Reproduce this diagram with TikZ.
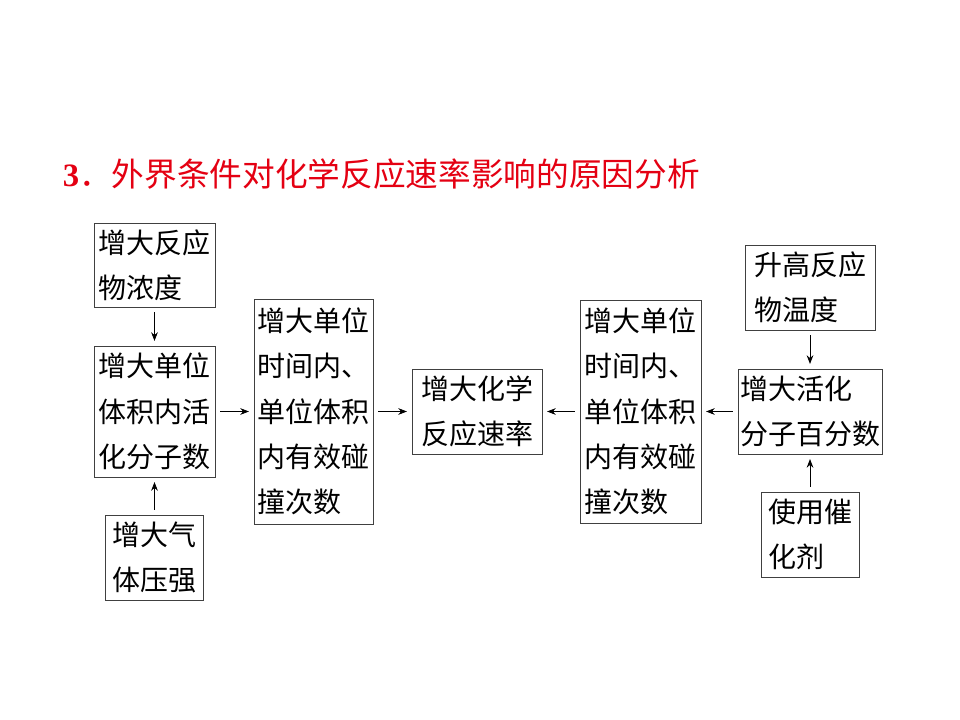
\documentclass[tikz,border=0pt]{standalone}
\usepackage{fontspec}
\setmainfont{Liberation Serif}
\newfontfamily\cjk{Noto Sans CJK SC}
\usepackage{xcolor}
\usepackage{tikz}
\usetikzlibrary{arrows.meta}
\definecolor{titlered}{RGB}{228,0,18}

\begin{document}
\begin{tikzpicture}[x=0.75pt,y=-0.75pt,line width=0.6pt,
    box/.style={draw=black!75, align=left, inner sep=0pt, font=\cjk\fontsize{21}{34}\selectfont},
    link/.style={-{Stealth[length=6.5pt,width=5pt]}, shorten <=3.5pt, shorten >=3.5pt}]
    \useasboundingbox (0,0) rectangle (960,720);
    \node[anchor=west, text=titlered, font=\fontsize{24.5}{28}\selectfont] (title) at (58,174)
      {\textbf{3}{\cjk ．外界条件对化学反应速率影响的原因分析}};
    % left side
    \node[box, minimum width=90.75pt, minimum height=63pt] (conc) at (154.5,265) {增大反应\\物浓度};
    \node[box, minimum width=90.75pt, minimum height=98.25pt] (actnum) at (154.5,411.5) {增大单位\\体积内活\\化分子数};
    \node[box, minimum width=73.5pt, minimum height=63.75pt] (press) at (154.5,557.5) {增大气\\体压强};
    \node[box, minimum width=89.25pt, minimum height=168.75pt] (collL) at (313.5,411.5) {增大单位\\时间内、\\单位体积\\内有效碰\\撞次数};
    % middle
    \node[box, minimum width=97.5pt, minimum height=63.75pt] (rate) at (477,411.5) {增大化学\\反应速率};
    % right side
    \node[box, minimum width=90.75pt, minimum height=167.25pt] (collR) at (640.5,411.5) {增大单位\\时间内、\\单位体积\\内有效碰\\撞次数};
    \node[box, minimum width=97.5pt, minimum height=63.75pt] (temp) at (810,287.5) {升高反应\\物温度};
    \node[box, minimum width=108pt, minimum height=63.75pt] (pctnum) at (810,411.5) {增大活化\\分子百分数};
    \node[box, minimum width=73.5pt, minimum height=63.75pt] (cat) at (810,534.5) {使用催\\化剂};
    \draw[link] (conc) -- (actnum);
    \draw[link] (press) -- (actnum);
    \draw[link] (actnum) -- (collL);
    \draw[link] (collL) -- (rate);
    \draw[link] (collR) -- (rate);
    \draw[link] (pctnum) -- (collR);
    \draw[link] (temp) -- (pctnum);
    \draw[link] (cat) -- (pctnum);
\end{tikzpicture}
\end{document}
